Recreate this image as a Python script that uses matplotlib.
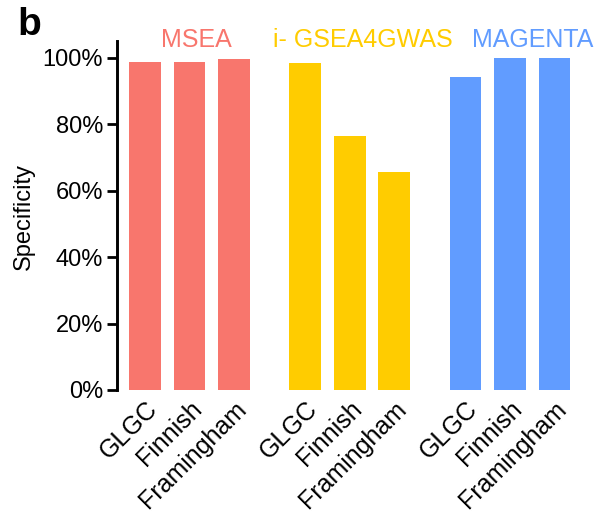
import matplotlib
matplotlib.use("Agg")
import matplotlib.pyplot as plt
from matplotlib.ticker import FuncFormatter

plt.rcParams["font.family"] = ["Liberation Sans", "DejaVu Sans"]

# Specificity (%) of each method across the three cohorts
methods = ["MSEA", "i- GSEA4GWAS", "MAGENTA"]
cohorts = ["GLGC", "Finnish", "Framingham"]
msea = [98.6, 98.6, 99.5]
gsea4gwas = [98.3, 76.3, 65.5]
magenta = [94.3, 100.0, 100.0]
colors = ["#F8766D", "#FFCC00", "#619CFF"]
yticks = [0, 20, 40, 60, 80, 100]

series = [msea, gsea4gwas, magenta]
group_step = 3.6
bar_width = 0.71
label_x = [1.15, 4.9, 8.72]

fig = plt.figure(figsize=(6.01, 5.12), dpi=100)
ax = fig.add_axes([117 / 601, 1 - 390 / 512, (590 - 117) / 601, (390 - 41) / 512])

xpos, xlabels = [], []
for g, (vals, col) in enumerate(zip(series, colors)):
    pos = [g * group_step + i for i in range(len(vals))]
    ax.bar(pos, vals, width=bar_width, color=col, linewidth=0)
    xpos += pos
    xlabels += cohorts
    ax.text(label_x[g], 105.4, methods[g], color=col, fontsize=18,
            ha="center", va="center", clip_on=False)

ax.set_xlim(-0.63, 10.0)
ax.set_ylim(0, 105)
ax.set_yticks(yticks)
ax.yaxis.set_major_formatter(FuncFormatter(lambda v, p: f"{v:.0f}%"))
ax.set_xticks(xpos)
ax.set_xticklabels(xlabels, rotation=45, ha="right", va="top",
                   rotation_mode="anchor", fontsize=18)
ax.tick_params(axis="x", length=0, pad=5)
ax.tick_params(axis="y", length=7, width=2.0, pad=3, labelsize=17)

for s in ("top", "right", "bottom"):
    ax.spines[s].set_visible(False)
ax.spines["left"].set_linewidth(2.1)

fig.text(24 / 601, 1 - 217 / 512, "Specificity", rotation=90, fontsize=17,
         ha="center", va="center")

fig.text(17 / 601, 1 - 35 / 512, "b", fontsize=28, fontweight="bold",
         ha="left", va="baseline")

fig.savefig("out.png", dpi=100)
